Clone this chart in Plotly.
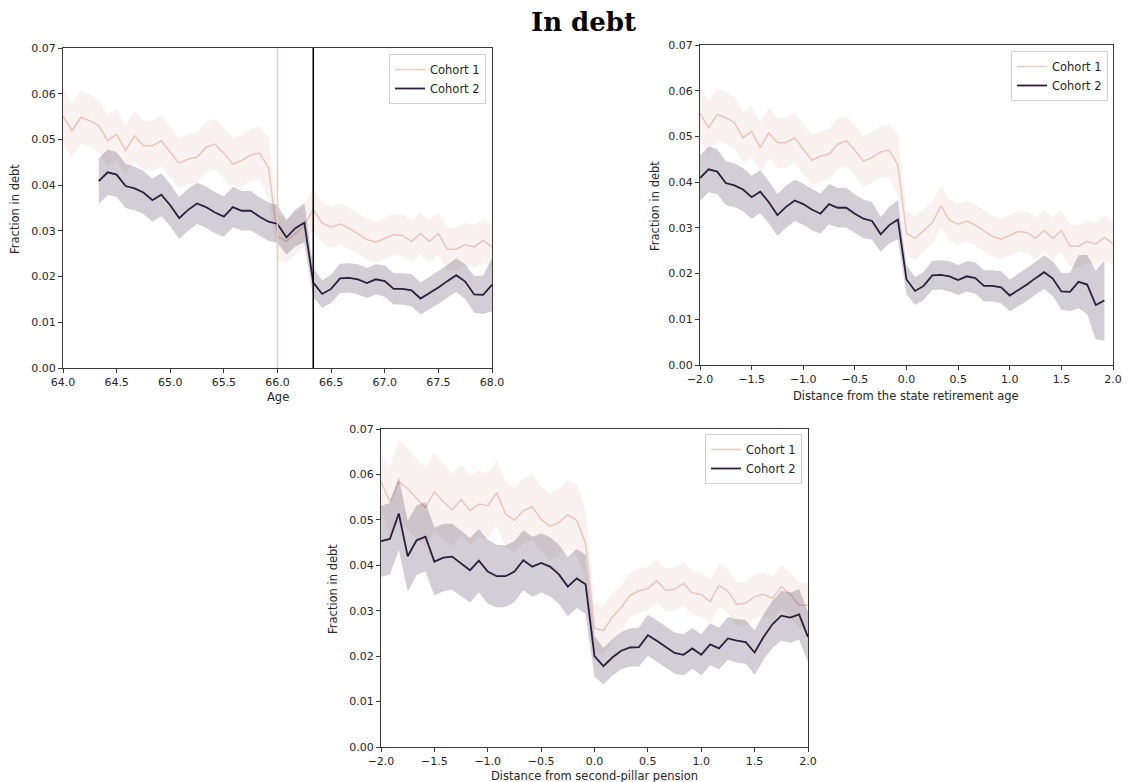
import numpy as np
import plotly.graph_objects as go

# ---------------- data ----------------
# monthly grid, -24..24 months around the cutoff (years)
months = np.arange(-24, 25) / 12.0

state_age_c1 = 66.0          # state retirement age, cohort 1
state_age_c2 = 66.0 + 4 / 12  # state retirement age, cohort 2

# Cohort 1 fraction in debt, by month relative to state retirement age (-2 .. 2)
c1_state = [0.0551, 0.0519, 0.0548, 0.0541, 0.0530, 0.0497, 0.0511, 0.0476, 0.0508, 0.0486, 0.0486, 0.0497,
            0.0472, 0.0448, 0.0457, 0.0461, 0.0483, 0.0490, 0.0470, 0.0446, 0.0454, 0.0466, 0.0470, 0.0437,
            0.0288, 0.0277, 0.0294, 0.0311, 0.0348, 0.0317, 0.0308, 0.0315, 0.0306, 0.0294, 0.0281, 0.0275,
            0.0284, 0.0292, 0.0290, 0.0277, 0.0294, 0.0277, 0.0294, 0.0260, 0.0260, 0.0270, 0.0265, 0.0279, 0.0265]
c1_state_ci = [0.0060, 0.0058, 0.0058, 0.0057, 0.0057, 0.0056, 0.0056, 0.0055, 0.0055, 0.0055, 0.0055, 0.0055,
               0.0055, 0.0055, 0.0055, 0.0055, 0.0055, 0.0055, 0.0055, 0.0056, 0.0056, 0.0057, 0.0058, 0.0068,
               0.0050, 0.0048, 0.0047, 0.0046, 0.0046, 0.0045, 0.0045, 0.0045, 0.0045, 0.0045, 0.0045, 0.0045,
               0.0045, 0.0045, 0.0045, 0.0046, 0.0046, 0.0046, 0.0046, 0.0046, 0.0047, 0.0047, 0.0047, 0.0048, 0.0048]

# Cohort 2 fraction in debt, by month relative to state retirement age (-2 .. 1.92)
c2_state = [0.0409, 0.0428, 0.0423, 0.0398, 0.0393, 0.0384, 0.0367, 0.0379, 0.0356, 0.0328, 0.0346, 0.0360,
            0.0352, 0.0340, 0.0331, 0.0352, 0.0344, 0.0344, 0.0331, 0.0320, 0.0315, 0.0286, 0.0306, 0.0318,
            0.0187, 0.0162, 0.0173, 0.0196, 0.0197, 0.0194, 0.0186, 0.0194, 0.0190, 0.0173, 0.0173, 0.0170,
            0.0152, 0.0164, 0.0176, 0.0190, 0.0203, 0.0189, 0.0161, 0.0160, 0.0182, 0.0176, 0.0131, 0.0141]
c2_state_ci = [0.0050, 0.0050, 0.0049, 0.0048, 0.0048, 0.0047, 0.0047, 0.0047, 0.0046, 0.0046, 0.0046, 0.0045,
               0.0045, 0.0045, 0.0044, 0.0044, 0.0043, 0.0043, 0.0042, 0.0042, 0.0041, 0.0038, 0.0040, 0.0043,
               0.0032, 0.0030, 0.0031, 0.0032, 0.0032, 0.0033, 0.0033, 0.0033, 0.0034, 0.0034, 0.0034, 0.0035,
               0.0035, 0.0035, 0.0036, 0.0036, 0.0037, 0.0038, 0.0040, 0.0042, 0.0058, 0.0065, 0.0075, 0.0088]
n_age_c2 = 45  # cohort 2 observations that fall inside the age window 64-68

# Distance from second-pillar pension (-2 .. 2)
c1_pillar = [0.0584, 0.0540, 0.0584, 0.0569, 0.0547, 0.0527, 0.0562, 0.0540, 0.0522, 0.0545, 0.0520, 0.0535,
             0.0531, 0.0560, 0.0513, 0.0499, 0.0520, 0.0529, 0.0501, 0.0486, 0.0494, 0.0511, 0.0499, 0.0448,
             0.0261, 0.0256, 0.0286, 0.0307, 0.0334, 0.0344, 0.0349, 0.0366, 0.0345, 0.0347, 0.0360, 0.0339,
             0.0336, 0.0320, 0.0356, 0.0343, 0.0314, 0.0317, 0.0331, 0.0336, 0.0327, 0.0353, 0.0336, 0.0312, 0.0312]
c1_pillar_ci = [0.0062, 0.0075, 0.0093, 0.0090, 0.0088, 0.0087, 0.0086, 0.0083, 0.0080, 0.0078, 0.0076, 0.0073,
                0.0071, 0.0072, 0.0072, 0.0072, 0.0072, 0.0072, 0.0072, 0.0073, 0.0074, 0.0075, 0.0078, 0.0075,
                0.0055, 0.0054, 0.0052, 0.0050, 0.0049, 0.0048, 0.0048, 0.0048, 0.0048, 0.0048, 0.0048, 0.0048,
                0.0048, 0.0048, 0.0048, 0.0048, 0.0048, 0.0048, 0.0048, 0.0048, 0.0048, 0.0047, 0.0048, 0.0050, 0.0050]
c2_pillar = [0.0453, 0.0458, 0.0514, 0.0420, 0.0455, 0.0463, 0.0408, 0.0417, 0.0419, 0.0404, 0.0389, 0.0410,
             0.0386, 0.0376, 0.0376, 0.0386, 0.0411, 0.0397, 0.0405, 0.0397, 0.0380, 0.0353, 0.0371, 0.0358,
             0.0200, 0.0178, 0.0197, 0.0212, 0.0219, 0.0220, 0.0246, 0.0234, 0.0220, 0.0207, 0.0203, 0.0217,
             0.0203, 0.0226, 0.0217, 0.0239, 0.0234, 0.0231, 0.0208, 0.0242, 0.0270, 0.0289, 0.0285, 0.0292, 0.0242]
c2_pillar_ci = [0.0078, 0.0079, 0.0080, 0.0078, 0.0077, 0.0076, 0.0075, 0.0074, 0.0073, 0.0072, 0.0071, 0.0070,
                0.0070, 0.0069, 0.0068, 0.0067, 0.0066, 0.0066, 0.0065, 0.0065, 0.0065, 0.0065, 0.0065, 0.0065,
                0.0045, 0.0040, 0.0040, 0.0041, 0.0042, 0.0043, 0.0045, 0.0045, 0.0045, 0.0045, 0.0045, 0.0045,
                0.0045, 0.0046, 0.0046, 0.0047, 0.0048, 0.0048, 0.0049, 0.0050, 0.0052, 0.0055, 0.0055, 0.0056, 0.0055]

y_ticks = [0.00, 0.01, 0.02, 0.03, 0.04, 0.05, 0.06, 0.07]
age_ticks = [64.0, 64.5, 65.0, 65.5, 66.0, 66.5, 67.0, 67.5, 68.0]
dist_ticks = [-2.0, -1.5, -1.0, -0.5, 0.0, 0.5, 1.0, 1.5, 2.0]

# ---------------- style ----------------
C1_LINE = "#ecc9bf"
C1_FILL = "rgba(232,190,178,0.2)"
C2_LINE = "#2d1e3e"
C2_FILL = "rgba(45,30,62,0.22)"
FONT = "DejaVu Sans"
W, H = 1145, 782

fig = go.Figure()


def add_series(x, y, ci, line_color, fill_color, name, xa, ya, legend, lw):
    x = list(x)
    y = np.array(y)
    ci = np.array(ci)
    hi = y + ci
    lo = y - ci
    fig.add_trace(go.Scatter(x=x, y=list(y), mode="lines", line=dict(color=line_color, width=lw),
                             name=name, xaxis=xa, yaxis=ya, legend=legend, showlegend=True))
    fig.add_trace(go.Scatter(x=x + x[::-1], y=list(hi) + list(lo[::-1]), mode="lines", fill="toself",
                             fillcolor=fill_color, line=dict(width=0), hoverinfo="skip",
                             xaxis=xa, yaxis=ya, showlegend=False))


# Panel 1: Age
x_age_c1 = state_age_c1 + months
x_age_c2 = state_age_c2 + months[:n_age_c2]
add_series(x_age_c1, c1_state, c1_state_ci, C1_LINE, C1_FILL, "Cohort 1", "x", "y", "legend", 1.5)
add_series(x_age_c2, c2_state[:n_age_c2], c2_state_ci[:n_age_c2], C2_LINE, C2_FILL, "Cohort 2", "x", "y", "legend", 1.8)

# Panel 2: distance from state retirement age
add_series(months, c1_state, c1_state_ci, C1_LINE, C1_FILL, "Cohort 1", "x2", "y2", "legend2", 1.5)
add_series(months[:len(c2_state)], c2_state, c2_state_ci, C2_LINE, C2_FILL, "Cohort 2", "x2", "y2", "legend2", 1.8)

# Panel 3: distance from second-pillar pension
add_series(months, c1_pillar, c1_pillar_ci, C1_LINE, C1_FILL, "Cohort 1", "x3", "y3", "legend3", 1.5)
add_series(months, c2_pillar, c2_pillar_ci, C2_LINE, C2_FILL, "Cohort 2", "x3", "y3", "legend3", 1.8)

# vertical reference lines in panel 1
fig.add_shape(type="line", xref="x", yref="y domain", x0=state_age_c1, x1=state_age_c1, y0=0, y1=1,
              line=dict(color=C1_LINE, width=1.5))
fig.add_shape(type="line", xref="x", yref="y domain", x0=state_age_c2, x1=state_age_c2, y0=0, y1=1,
              line=dict(color="#000000", width=1.5))


def px(v):
    return v / W


def py(v):
    return 1 - v / H


axis_common = dict(showline=True, mirror=True, linecolor="#3a3a3a", linewidth=1, ticks="outside",
                   ticklen=4, tickwidth=1, tickcolor="#3a3a3a", showgrid=False, zeroline=False,
                   automargin=False, tickfont=dict(family=FONT, size=11, color="#262626"))

fig.update_layout(
    width=W, height=H, margin=dict(l=0, r=0, t=0, b=0, autoexpand=False),
    paper_bgcolor="white", plot_bgcolor="white",
    font=dict(family=FONT, color="#262626"),
    xaxis=dict(domain=[px(63), px(492)], range=[64, 68], tickvals=age_ticks, tickformat=".1f",
               anchor="y", **axis_common),
    yaxis=dict(domain=[py(368), py(48)], range=[0, 0.07], tickvals=y_ticks, tickformat=".2f",
               anchor="x", **axis_common),
    xaxis2=dict(domain=[px(700), px(1113)], range=[-2, 2], tickvals=dist_ticks, tickformat=".1f",
                anchor="y2", **axis_common),
    yaxis2=dict(domain=[py(365), py(45)], range=[0, 0.07], tickvals=y_ticks, tickformat=".2f",
                anchor="x2", **axis_common),
    xaxis3=dict(domain=[px(381), px(808)], range=[-2, 2], tickvals=dist_ticks, tickformat=".1f",
                anchor="y3", **axis_common),
    yaxis3=dict(domain=[py(747), py(429)], range=[0, 0.07], tickvals=y_ticks, tickformat=".2f",
                anchor="x3", **axis_common),
)

legend_common = dict(xanchor="right", yanchor="top", bgcolor="rgba(255,255,255,0.85)",
                     bordercolor="#d0d0d0", borderwidth=1, font=dict(family=FONT, size=11.5, color="#262626"),
                     itemwidth=30, tracegroupgap=0)
fig.update_layout(
    legend=dict(x=px(486), y=py(54), **legend_common),
    legend2=dict(x=px(1108), y=py(51), **legend_common),
    legend3=dict(x=px(802), y=py(434), **legend_common),
)

ann = []
ann.append(dict(text="<b>In debt</b>", x=px(583), y=py(22), xref="paper", yref="paper", showarrow=False,
                xanchor="center", yanchor="middle", font=dict(family="DejaVu Serif", size=26, color="black")))
for txt, xx, yy in [("Age", 277.5, 397), ("Distance from the state retirement age", 906.5, 396),
                    ("Distance from second-pillar pension", 594.5, 776)]:
    ann.append(dict(text=txt, x=px(xx), y=py(yy), xref="paper", yref="paper", showarrow=False,
                    xanchor="center", yanchor="middle", font=dict(family=FONT, size=11.5, color="#262626")))
for xx, yy in [(15, 209), (655, 206), (333, 589)]:
    ann.append(dict(text="Fraction in debt", x=px(xx), y=py(yy), xref="paper", yref="paper", showarrow=False,
                    textangle=-90, xanchor="center", yanchor="middle",
                    font=dict(family=FONT, size=11.5, color="#262626")))
fig.update_layout(annotations=ann)

fig.write_html("out.html")
